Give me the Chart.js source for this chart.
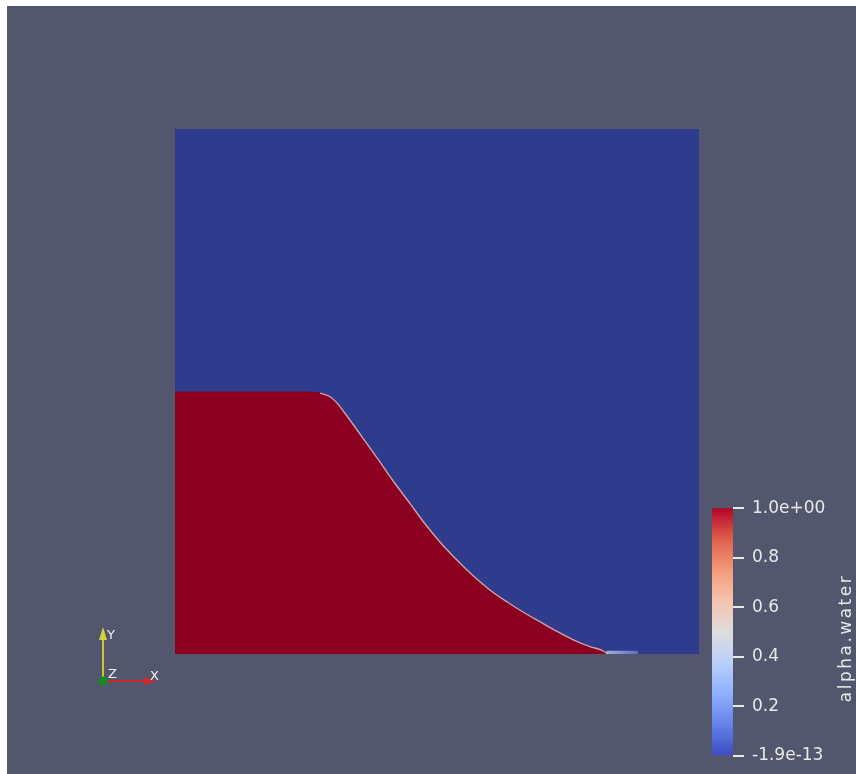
<!DOCTYPE html>
<html>
<head>
<meta charset="utf-8">
<script src="https://cdn.jsdelivr.net/npm/chart.js@4/dist/chart.umd.min.js"></script>
<style>
  html, body { margin: 0; padding: 0; background: #ffffff; }
  #wrap { position: relative; width: 856px; height: 774px; }
  #main { position: absolute; left: 0; top: 0; }
  #bar { position: absolute; left: 700px; top: 490px; }
</style>
</head>
<body>
<div id="wrap">
  <canvas id="main" width="856" height="774"></canvas>
  <canvas id="bar" width="156" height="284"></canvas>
</div>
<script>
// Free surface of the water column (domain units, 0..1 in both directions)
const surfaceX = [0.000, 0.258, 0.277, 0.296, 0.311, 0.324, 0.353, 0.386, 0.416, 0.449, 0.477,
                  0.506, 0.538, 0.569, 0.601, 0.634, 0.664, 0.697, 0.729, 0.760, 0.792, 0.815, 0.826];
const surfaceY = [0.499, 0.499, 0.497, 0.490, 0.476, 0.459, 0.419, 0.373, 0.330, 0.286, 0.248,
                  0.213, 0.179, 0.149, 0.122, 0.099, 0.080, 0.061, 0.043, 0.027, 0.014, 0.007, 0.000];
// Index where the smeared interface (alpha ~ 0.5) becomes visible
const interfaceStart = 2;

// Thin film of partially wet cells ahead of the front
const filmX = [0.823, 0.884];
const filmY = [0.006, 0.006];

// Tank outline (fully air-filled background)
const tankX = [0, 1];
const tankY = [1, 1];

// Colour legend
const legendTicks = [0, 0.2, 0.4, 0.6, 0.8, 1.0];
const legendLabels = ['-1.9e-13', '0.2', '0.4', '0.6', '0.8', '1.0e+00'];
const legendTitle = 'alpha.water';

// Cool-to-warm colour map stops
const mapStops = [0, 0.125, 0.25, 0.375, 0.5, 0.625, 0.75, 0.875, 1];
const mapColors = ['rgb(59,76,192)', 'rgb(98,130,234)', 'rgb(141,176,254)', 'rgb(184,208,249)',
                   'rgb(221,221,221)', 'rgb(245,196,173)', 'rgb(244,154,123)', 'rgb(222,96,77)',
                   'rgb(180,4,38)'];

const pts = (xs, ys) => xs.map((x, i) => ({ x, y: ys[i] }));

// Viewport background and orientation triad
const viewPlugin = {
  id: 'view',
  beforeDraw(chart) {
    const c = chart.ctx;
    c.save();
    c.fillStyle = '#ffffff';
    c.fillRect(0, 0, chart.width, chart.height);
    c.fillStyle = '#52576e';
    c.fillRect(7, 6, chart.width - 7, chart.height - 6);
    c.restore();
  },
  afterDraw(chart) {
    const c = chart.ctx;
    const ox = 103, oy = 681;
    c.save();
    // Y axis (yellow)
    c.strokeStyle = '#c8c832';
    c.lineWidth = 2;
    c.beginPath(); c.moveTo(ox, oy); c.lineTo(ox, 638); c.stroke();
    c.fillStyle = '#d2d23c';
    c.beginPath(); c.moveTo(ox, 627); c.lineTo(ox - 4, 640); c.lineTo(ox + 4, 640); c.closePath(); c.fill();
    // X axis (red)
    c.strokeStyle = '#c82828';
    c.beginPath(); c.moveTo(ox, oy); c.lineTo(146, oy); c.stroke();
    c.fillStyle = '#d22828';
    c.beginPath(); c.moveTo(156, oy); c.lineTo(144, oy - 4); c.lineTo(144, oy + 4); c.closePath(); c.fill();
    // Z axis (green, pointing at the viewer)
    c.fillStyle = '#138c1e';
    c.beginPath(); c.arc(ox, oy, 4.5, 0, Math.PI * 2); c.fill();
    // Axis names
    c.fillStyle = '#f0f0f0';
    c.font = '13px "DejaVu Sans", sans-serif';
    c.textBaseline = 'alphabetic';
    c.fillText('Y', 107, 639);
    c.fillText('Z', 108, 678);
    c.fillText('X', 150, 680);
    c.restore();
  }
};

new Chart(document.getElementById('main'), {
  type: 'scatter',
  data: {
    datasets: [
      {
        data: pts(tankX, tankY),
        showLine: true, fill: 'origin',
        backgroundColor: '#2f3b8d', borderColor: '#2f3b8d', borderWidth: 0,
        pointRadius: 0, order: 4
      },
      {
        data: pts(surfaceX, surfaceY),
        showLine: true, fill: 'origin', cubicInterpolationMode: 'monotone',
        backgroundColor: '#8b0020', borderColor: '#8b0020', borderWidth: 1,
        pointRadius: 0, order: 3
      },
      {
        data: pts(filmX, filmY),
        showLine: true, fill: 'origin',
        backgroundColor(ctx) {
          const ch = ctx.chart;
          if (!ch.chartArea) return '#8ea2d8';
          const sx = ch.scales.x;
          const g = ch.ctx.createLinearGradient(sx.getPixelForValue(filmX[0]), 0,
                                                sx.getPixelForValue(filmX[1]), 0);
          g.addColorStop(0, 'rgb(160,176,222)');
          g.addColorStop(1, 'rgb(90,110,190)');
          return g;
        },
        borderWidth: 0, pointRadius: 0, order: 2
      },
      {
        data: pts(surfaceX.slice(interfaceStart), surfaceY.slice(interfaceStart)),
        showLine: true, fill: false, cubicInterpolationMode: 'monotone',
        borderColor: 'rgba(228,200,196,0.8)', borderWidth: 1.4,
        pointRadius: 0, order: 1
      }
    ]
  },
  options: {
    responsive: false,
    animation: false,
    devicePixelRatio: 1,
    layout: { padding: { left: 175, top: 129, right: 157, bottom: 120 } },
    scales: {
      x: { type: 'linear', min: 0, max: 1, display: false },
      y: { type: 'linear', min: 0, max: 1, display: false }
    },
    plugins: { legend: { display: false }, tooltip: { enabled: false } }
  },
  plugins: [viewPlugin]
});

// Legend title, read bottom to top
const titlePlugin = {
  id: 'legendTitle',
  afterDraw(chart) {
    const c = chart.ctx;
    c.save();
    c.translate(147, 148);
    c.rotate(-Math.PI / 2);
    c.fillStyle = '#e8e8e8';
    c.font = '17px "DejaVu Sans", sans-serif';
    c.letterSpacing = '2.5px';
    c.textAlign = 'center';
    c.textBaseline = 'middle';
    c.fillText(legendTitle, 0, 0);
    c.restore();
  }
};

new Chart(document.getElementById('bar'), {
  type: 'bar',
  data: {
    labels: [legendTitle],
    datasets: [{
      data: [1],
      barPercentage: 1, categoryPercentage: 1, borderWidth: 0,
      backgroundColor(ctx) {
        const ch = ctx.chart;
        if (!ch.chartArea) return mapColors[4];
        const a = ch.chartArea;
        const g = ch.ctx.createLinearGradient(0, a.bottom, 0, a.top);
        mapStops.forEach((s, i) => g.addColorStop(s, mapColors[i]));
        return g;
      }
    }]
  },
  options: {
    responsive: false,
    animation: false,
    devicePixelRatio: 1,
    layout: { padding: { left: 12, top: 18, right: 0, bottom: 12 } },
    scales: {
      x: { display: false },
      y: {
        position: 'right',
        min: 0, max: 1,
        afterFit(scale) { scale.width = 123; },
        afterBuildTicks(scale) { scale.ticks = legendTicks.map(v => ({ value: v })); },
        border: { display: false },
        grid: { drawOnChartArea: false, drawTicks: true, tickLength: 11, color: '#e8e8e8', lineWidth: 2 },
        ticks: {
          autoSkip: false,
          padding: 8,
          color: '#e8e8e8',
          font: { family: '"DejaVu Sans", sans-serif', size: 17 },
          callback: (v, i) => legendLabels[i]
        }
      }
    },
    plugins: { legend: { display: false }, tooltip: { enabled: false } }
  },
  plugins: [titlePlugin]
});
</script>
</body>
</html>
